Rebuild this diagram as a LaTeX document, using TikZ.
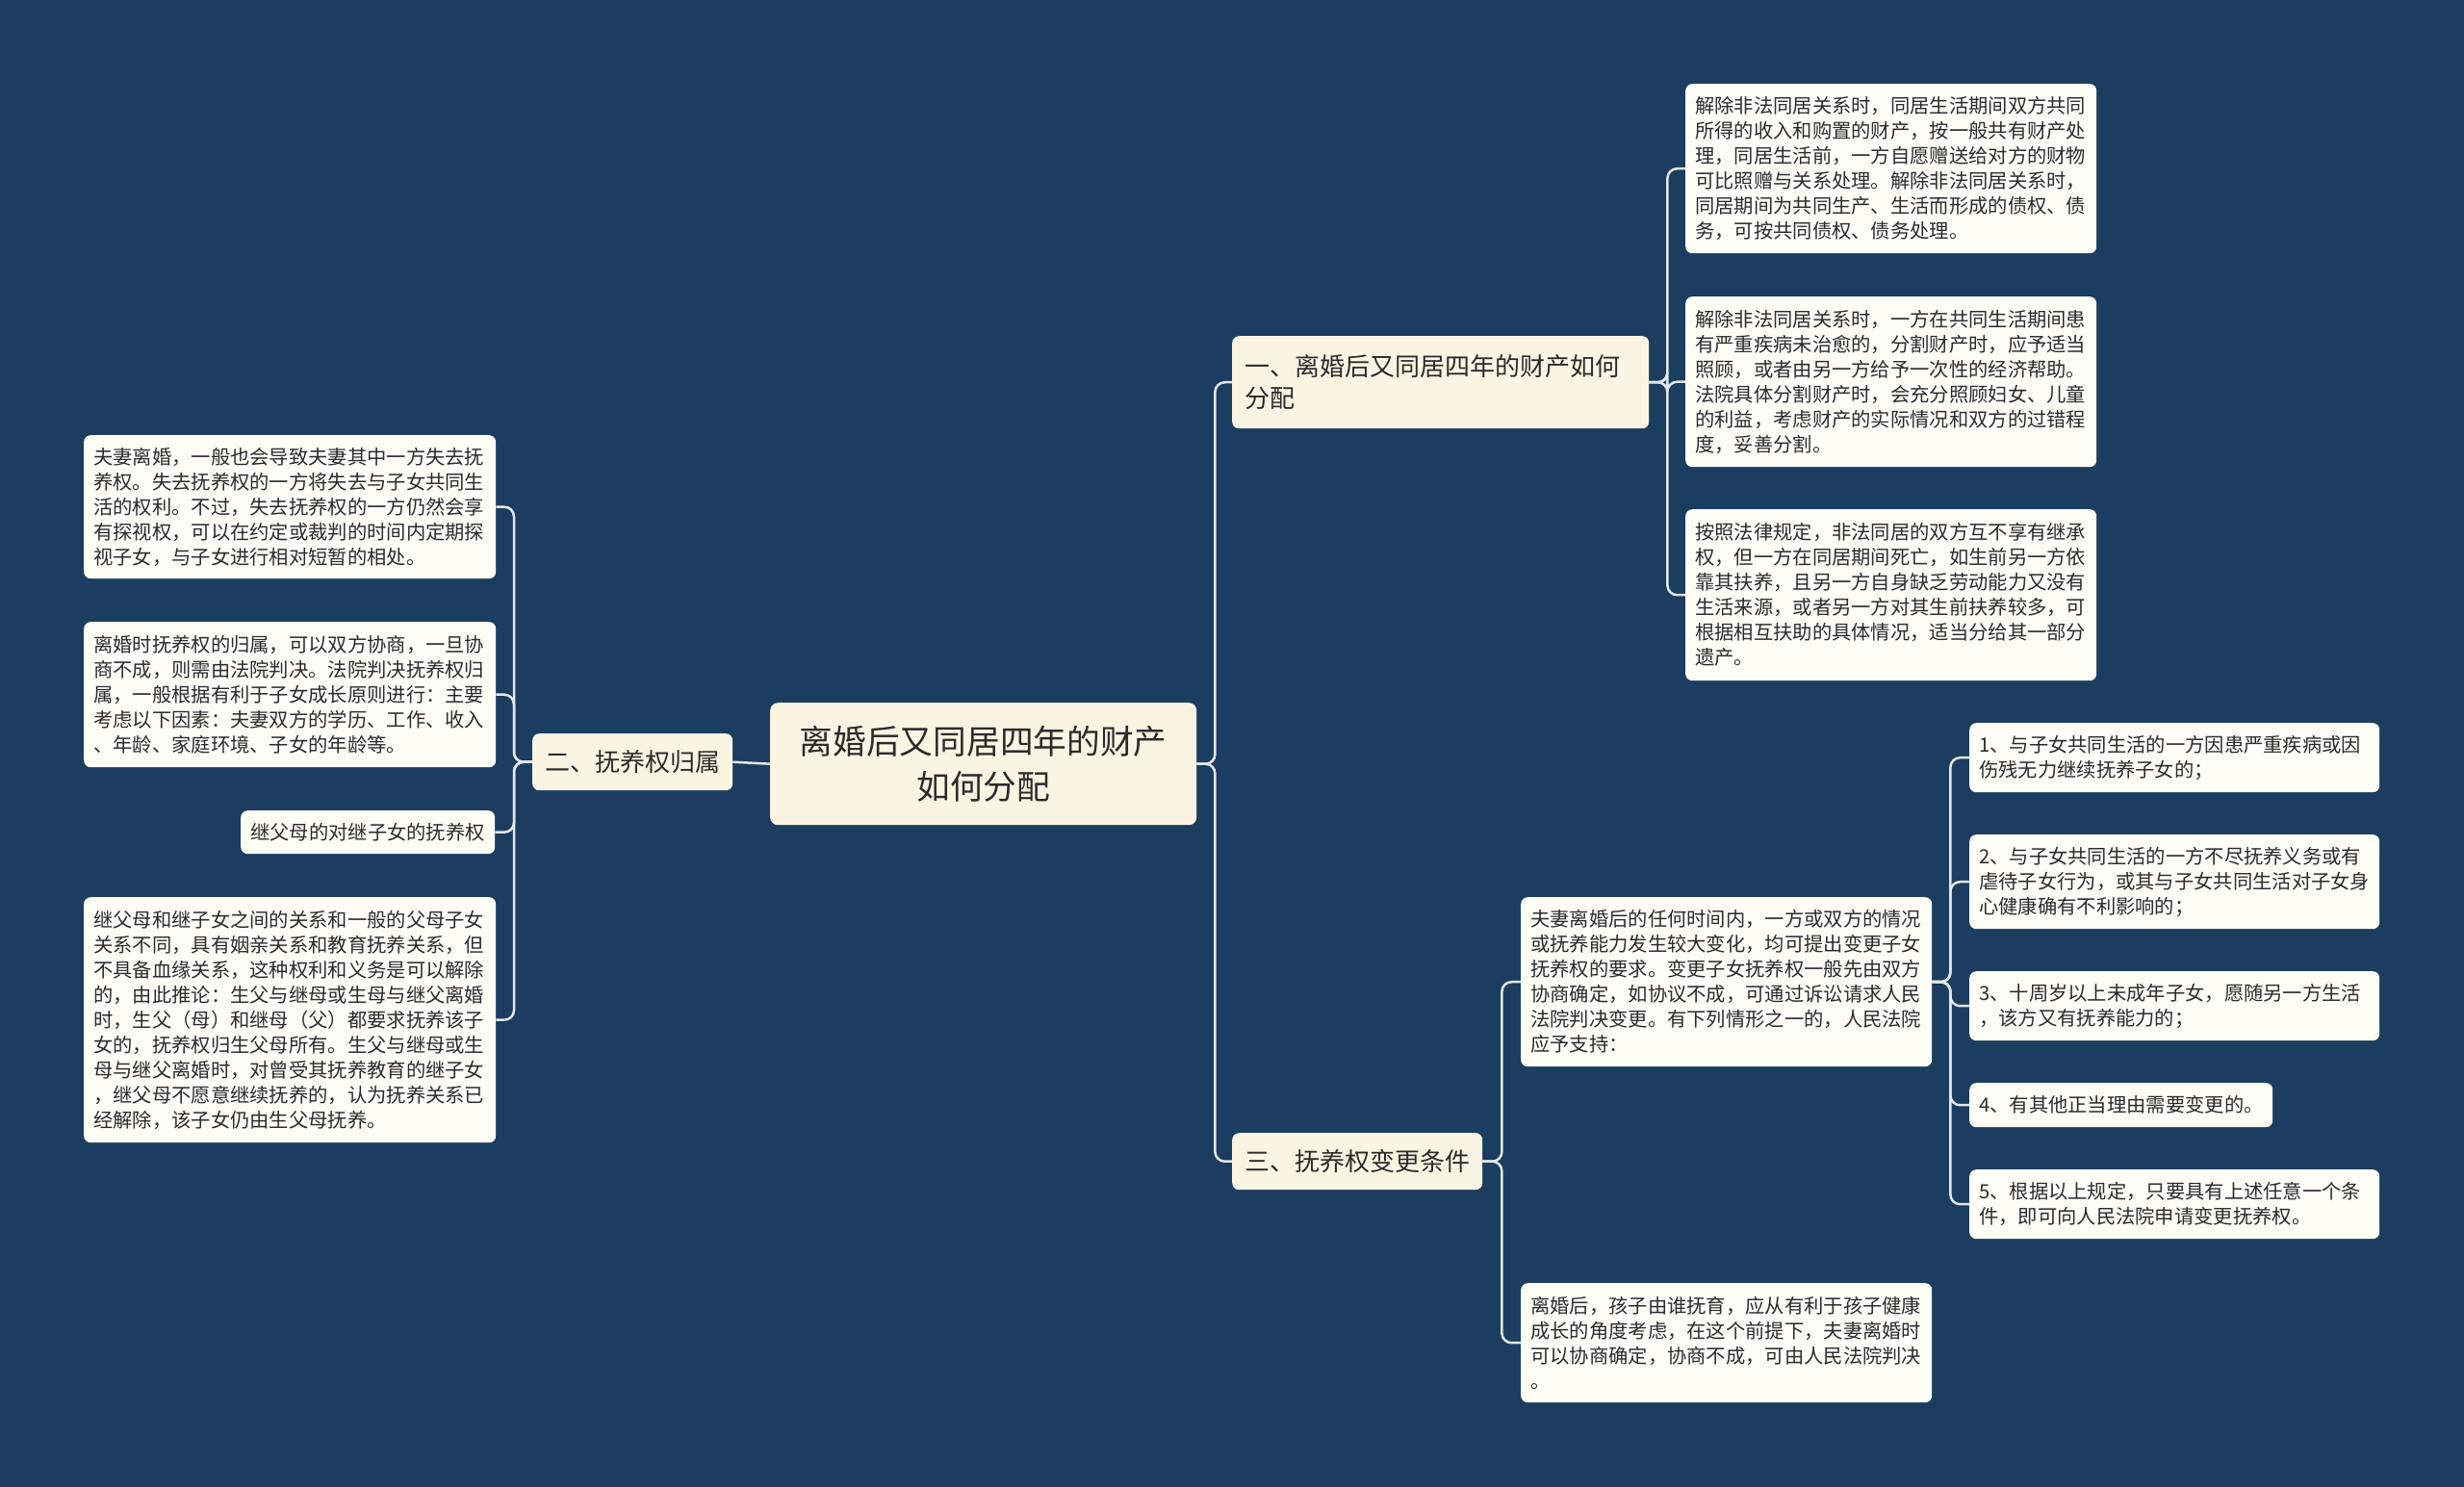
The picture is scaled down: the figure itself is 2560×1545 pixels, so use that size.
\documentclass[tikz,border=0pt]{standalone}
\usepackage{fontspec}
\newfontfamily\cjk{Noto Sans CJK SC}
\definecolor{bgc}{HTML}{1B3D5F}
\definecolor{mainc}{HTML}{FAF5E2}
\definecolor{leafc}{HTML}{FEFEF7}
\definecolor{txtc}{HTML}{2B2B2B}
\definecolor{linec}{HTML}{E4E7EA}
\tikzset{
  conn/.style={draw=linec, line width=2.5pt, rounded corners=10pt},
  rootbox/.style={fill=mainc, rounded corners=8pt, text=txtc, align=center,
    font=\cjk\fontsize{34.7}{47}\selectfont, inner sep=0pt, anchor=north west},
  branchbox/.style={fill=mainc, rounded corners=7pt, text=txtc, align=left,
    font=\cjk\fontsize{26}{33.5}\selectfont, inner xsep=13pt, inner ysep=0pt, anchor=north west},
  leafbox/.style={fill=leafc, rounded corners=7pt, text=txtc, align=left,
    font=\cjk\fontsize{20.3}{26}\selectfont, inner xsep=10pt, inner ysep=0pt, anchor=north west},
}
\begin{document}
\begin{tikzpicture}[x=1pt,y=-1pt]
\fill[bgc] (0,0) rectangle (2560,1545);
\useasboundingbox (0,0) rectangle (2560,1545);

% root
\node[rootbox, minimum width=443pt, minimum height=127pt] (root) at (800,730)
  {离婚后又同居四年的财产\\如何分配};

% branches
\node[branchbox, minimum width=433pt, minimum height=96pt, text width=407pt] (b1) at (1280,349)
  {一、离婚后又同居四年的财产如何\\分配};
\node[branchbox, minimum width=208pt, minimum height=59pt, text width=182pt] (b2) at (553,762)
  {二、抚养权归属};
\node[branchbox, minimum width=260pt, minimum height=59pt, text width=234pt] (b3) at (1280,1177)
  {三、抚养权变更条件};

% branch 1 leaves
\node[leafbox, minimum width=427pt, minimum height=176pt, text width=407pt] (l1a) at (1751,87)
  {解除非法同居关系时，同居生活期间双方共同\\所得的收入和购置的财产，按一般共有财产处\\理，同居生活前，一方自愿赠送给对方的财物\\可比照赠与关系处理。解除非法同居关系时，\\同居期间为共同生产、生活而形成的债权、债\\务，可按共同债权、债务处理。};
\node[leafbox, minimum width=427pt, minimum height=177pt, text width=407pt] (l1b) at (1751,308)
  {解除非法同居关系时，一方在共同生活期间患\\有严重疾病未治愈的，分割财产时，应予适当\\照顾，或者由另一方给予一次性的经济帮助。\\法院具体分割财产时，会充分照顾妇女、儿童\\的利益，考虑财产的实际情况和双方的过错程\\度，妥善分割。};
\node[leafbox, minimum width=427pt, minimum height=178pt, text width=407pt] (l1c) at (1751,529)
  {按照法律规定，非法同居的双方互不享有继承\\权，但一方在同居期间死亡，如生前另一方依\\靠其扶养，且另一方自身缺乏劳动能力又没有\\生活来源，或者另一方对其生前扶养较多，可\\根据相互扶助的具体情况，适当分给其一部分\\遗产。};

% branch 2 leaves
\node[leafbox, minimum width=428pt, minimum height=149pt, text width=408pt] (l2a) at (87,452)
  {夫妻离婚，一般也会导致夫妻其中一方失去抚\\养权。失去抚养权的一方将失去与子女共同生\\活的权利。不过，失去抚养权的一方仍然会享\\有探视权，可以在约定或裁判的时间内定期探\\视子女，与子女进行相对短暂的相处。};
\node[leafbox, minimum width=428pt, minimum height=151pt, text width=408pt] (l2b) at (87,646)
  {离婚时抚养权的归属，可以双方协商，一旦协\\商不成，则需由法院判决。法院判决抚养权归\\属，一般根据有利于子女成长原则进行：主要\\考虑以下因素：夫妻双方的学历、工作、收入\\、年龄、家庭环境、子女的年龄等。};
\node[leafbox, minimum width=264pt, minimum height=45pt, text width=244pt] (l2c) at (250,842)
  {继父母的对继子女的抚养权};
\node[leafbox, minimum width=428pt, minimum height=255pt, text width=408pt] (l2d) at (87,932)
  {继父母和继子女之间的关系和一般的父母子女\\关系不同，具有姻亲关系和教育抚养关系，但\\不具备血缘关系，这种权利和义务是可以解除\\的，由此推论：生父与继母或生母与继父离婚\\时，生父（母）和继母（父）都要求抚养该子\\女的，抚养权归生父母所有。生父与继母或生\\母与继父离婚时，对曾受其抚养教育的继子女\\，继父母不愿意继续抚养的，认为抚养关系已\\经解除，该子女仍由生父母抚养。};

% branch 3 leaves
\node[leafbox, minimum width=427pt, minimum height=176pt, text width=407pt] (l3a) at (1580,932)
  {夫妻离婚后的任何时间内，一方或双方的情况\\或抚养能力发生较大变化，均可提出变更子女\\抚养权的要求。变更子女抚养权一般先由双方\\协商确定，如协议不成，可通过诉讼请求人民\\法院判决变更。有下列情形之一的，人民法院\\应予支持：};
\node[leafbox, minimum width=427pt, minimum height=124pt, text width=407pt] (l3b) at (1580,1333)
  {离婚后，孩子由谁抚育，应从有利于孩子健康\\成长的角度考虑，在这个前提下，夫妻离婚时\\可以协商确定，协商不成，可由人民法院判决\\。};

% children of l3a
\node[leafbox, minimum width=426pt, minimum height=72pt, text width=406pt] (c1) at (2046,751)
  {1、与子女共同生活的一方因患严重疾病或因\\伤残无力继续抚养子女的；};
\node[leafbox, minimum width=426pt, minimum height=98pt, text width=406pt] (c2) at (2046,867)
  {2、与子女共同生活的一方不尽抚养义务或有\\虐待子女行为，或其与子女共同生活对子女身\\心健康确有不利影响的；};
\node[leafbox, minimum width=426pt, minimum height=72pt, text width=406pt] (c3) at (2046,1009)
  {3、十周岁以上未成年子女，愿随另一方生活\\，该方又有抚养能力的；};
\node[leafbox, minimum width=315pt, minimum height=46pt, text width=295pt] (c4) at (2046,1125)
  {4、有其他正当理由需要变更的。};
\node[leafbox, minimum width=426pt, minimum height=72pt, text width=406pt] (c5) at (2046,1215)
  {5、根据以上规定，只要具有上述任意一个条\\件，即可向人民法院申请变更抚养权。};

% connectors
\draw[conn] (root.east) -- ++(19,0) |- (b1.west);
\draw[conn] (root.east) -- ++(19,0) |- (b3.west);
\draw[conn] (root.west) -- (b2.east);

\draw[conn] (b1.east) -- ++(19,0) |- (l1a.west);
\draw[conn] (b1.east) -- ++(19,0) |- (l1b.west);
\draw[conn] (b1.east) -- ++(19,0) |- (l1c.west);

\draw[conn] (b2.west) -- ++(-19,0) |- (l2a.east);
\draw[conn] (b2.west) -- ++(-19,0) |- (l2b.east);
\draw[conn] (b2.west) -- ++(-19,0) |- (l2c.east);
\draw[conn] (b2.west) -- ++(-19,0) |- (l2d.east);

\draw[conn] (b3.east) -- ++(20,0) |- (l3a.west);
\draw[conn] (b3.east) -- ++(20,0) |- (l3b.west);

\draw[conn] (l3a.east) -- ++(19,0) |- (c1.west);
\draw[conn] (l3a.east) -- ++(19,0) |- (c2.west);
\draw[conn] (l3a.east) -- ++(19,0) |- (c3.west);
\draw[conn] (l3a.east) -- ++(19,0) |- (c4.west);
\draw[conn] (l3a.east) -- ++(19,0) |- (c5.west);
\end{tikzpicture}
\end{document}
